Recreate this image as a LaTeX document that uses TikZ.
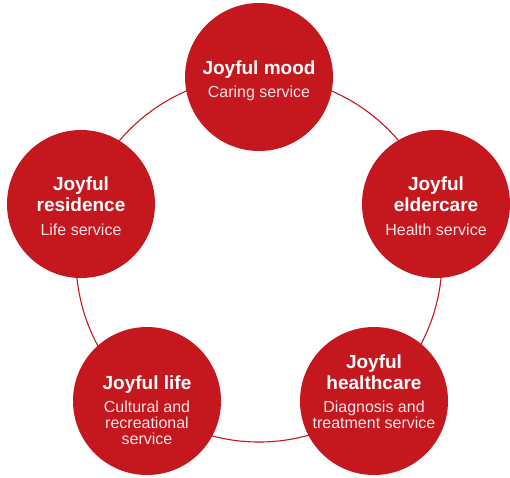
\documentclass[tikz,border=0pt]{standalone}
\usepackage{fontspec}
\setmainfont{Liberation Sans}
\definecolor{joyred}{RGB}{196,23,30}
\definecolor{softwhite}{RGB}{250,228,229}
\newcommand{\JoyTitle}[1]{{\bfseries #1}}
\newcommand{\JoySub}[1]{{\fontsize{16}{16}\selectfont\color{softwhite}#1}}
\tikzset{
  joy/.style={circle, fill=joyred, minimum size=148pt, inner sep=0pt},
  caption/.style={text=white, align=center, inner sep=0pt,
    font=\fontsize{19}{21}\selectfont},
  ring/.style={draw=joyred, line width=1.1pt}
}

\begin{document}
\begin{tikzpicture}[x=1pt,y=-1pt]
\useasboundingbox (0,0) rectangle (510,477);

% the ring behind the five circles
\coordinate (hub) at (259,259);
\draw [ring] (hub) circle [radius=183];

\node [joy] (mood) at (259,77) {};
\node [caption] (mood-text) at ([yshift=-4pt]mood.center)
  {\JoyTitle{Joyful mood}\\[2pt]\JoySub{Caring service}};

\node [joy] (eldercare) at (436,204) {};
\node [caption] (eldercare-text) at ([yshift=-2pt]eldercare.center)
  {\JoyTitle{Joyful}\\\JoyTitle{eldercare}\\[3pt]\JoySub{Health service}};

\node [joy] (healthcare) at (374,401) {};
\node [caption] (healthcare-text) at ([yshift=9pt]healthcare.center)
  {\JoyTitle{Joyful}\\\JoyTitle{healthcare}\\[2pt]\JoySub{Diagnosis and}\\[-5pt]\JoySub{treatment service}};

\node [joy] (life) at (147,401) {};
\node [caption] (life-text) at ([yshift=-9.5pt]life.center)
  {\JoyTitle{Joyful life}\\[2pt]\JoySub{Cultural and}\\[-5pt]\JoySub{recreational}\\[-5pt]\JoySub{service}};

\node [joy] (residence) at (81,204) {};
\node [caption] (residence-text) at ([yshift=-2pt]residence.center)
  {\JoyTitle{Joyful}\\\JoyTitle{residence}\\[3pt]\JoySub{Life service}};

\end{tikzpicture}
\end{document}
